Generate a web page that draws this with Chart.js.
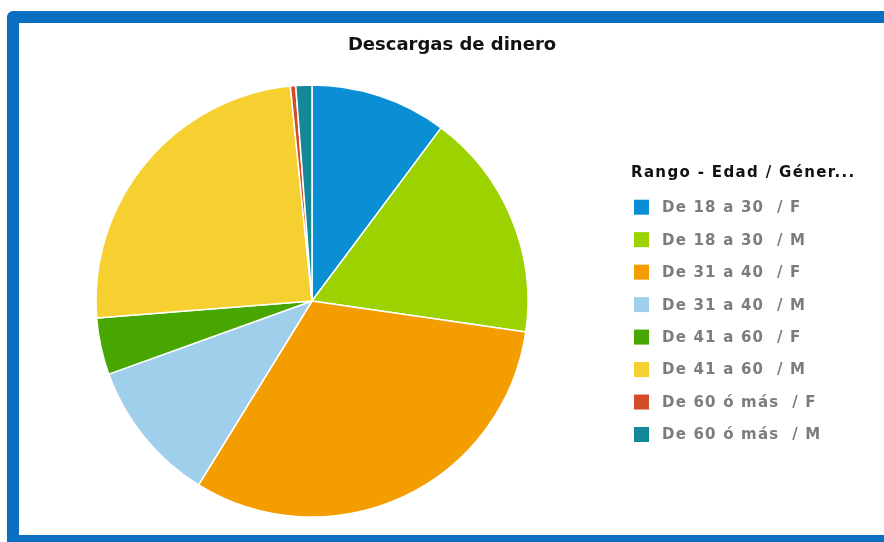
<!DOCTYPE html>
<html>
<head>
<meta charset="utf-8">
<script src="https://cdn.jsdelivr.net/npm/chart.js@4/dist/chart.umd.min.js"></script>
<style>
  html, body { margin: 0; padding: 0; background: #ffffff; }
  body { width: 884px; height: 542px; position: relative; overflow: hidden; }
  #frame { position: absolute; left: 7px; top: 11px; width: 920px; height: 536px;
           border: 12px solid #0b6fc1; border-radius: 6px; background: #ffffff; box-sizing: border-box; }
  #wrap { position: absolute; left: 0; top: 0; width: 884px; height: 542px; }
</style>
</head>
<body>
<div id="frame"></div>
<div id="wrap"><canvas id="c" width="884" height="542"></canvas></div>
<script>
const chartTitle = "Descargas de dinero";
const legendTitle = "Rango - Edad / Géner...";
const categories = [
  "De 18 a 30  / F",
  "De 18 a 30  / M",
  "De 31 a 40  / F",
  "De 31 a 40  / M",
  "De 41 a 60  / F",
  "De 41 a 60  / M",
  "De 60 ó más  / F",
  "De 60 ó más  / M"
];
const values = [10.2, 17.1, 31.5, 10.7, 4.25, 24.65, 0.4, 1.2];
const colors = ["#0a8fd4", "#9bd200", "#f39d00", "#a0cfec", "#48a600", "#f6d030", "#d24d28", "#148897"];

const customText = {
  id: 'customText',
  afterDraw(chart) {
    const ctx = chart.ctx;
    ctx.save();
    // chart title
    ctx.font = "bold 18px 'DejaVu Sans'";
    ctx.fillStyle = "#111111";
    ctx.textAlign = "center";
    ctx.textBaseline = "middle";
    ctx.fillText(chartTitle, 452, 45);
    // legend title
    ctx.textAlign = "left";
    ctx.letterSpacing = "1.35px";
    ctx.font = "bold 15px 'DejaVu Sans'";
    ctx.fillStyle = "#111111";
    ctx.fillText(legendTitle, 631, 173);
    // legend items
    const labels = chart.data.labels;
    const bg = chart.data.datasets[0].backgroundColor;
    ctx.letterSpacing = "1.2px";
    for (let i = 0; i < labels.length; i++) {
      const y = 207.2 + i * 32.47;
      ctx.fillStyle = bg[i];
      ctx.fillRect(634, y - 7.5, 15, 15);
      ctx.fillStyle = "#7c7c7c";
      ctx.font = "bold 15px 'DejaVu Sans'";
      ctx.fillText(labels[i], 662, y + 1);
    }
    ctx.restore();
  }
};

new Chart(document.getElementById('c'), {
  type: 'pie',
  data: {
    labels: categories,
    datasets: [{
      data: values,
      backgroundColor: colors,
      borderColor: "#ffffff",
      borderWidth: 1.5
    }]
  },
  options: {
    responsive: false,
    animation: false,
    radius: 216,
    layout: { padding: { left: 96, top: 85, right: 356, bottom: 25 } },
    plugins: {
      legend: { display: false },
      title: { display: false },
      tooltip: { enabled: false }
    }
  },
  plugins: [customText]
});
</script>
</body>
</html>
